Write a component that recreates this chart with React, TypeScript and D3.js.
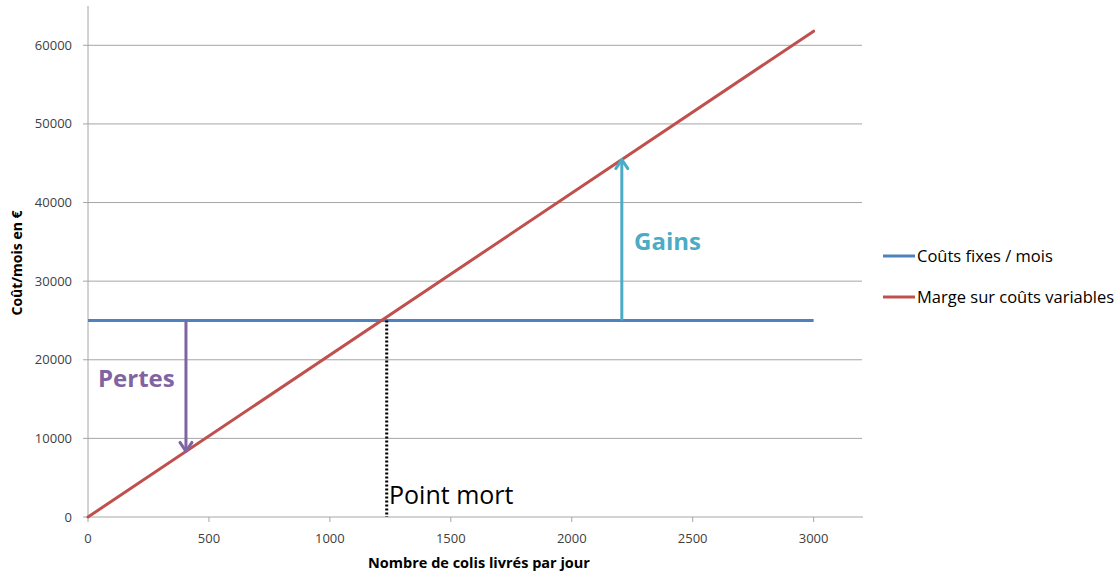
import React from "react";
import * as d3 from "d3";

const xTicks = [0, 500, 1000, 1500, 2000, 2500, 3000];
const yTicks = [0, 10000, 20000, 30000, 40000, 50000, 60000];
const fixedX = [0, 3000];
const fixedY = [25000, 25000];
const margeX = [0, 3000];
const margeY = [0, 61800];
const breakEven = 1235;
const pertesX = 405;
const gainsX = 2207;
const legendLabels = ["Coûts fixes / mois", "Marge sur coûts variables"];
const seriesColors = ["#4F81BD", "#C0504D"];

const FONT = "'Open Sans', 'Noto Sans', sans-serif";

export default function App() {
  const W = 1118, H = 574;
  const x = d3.scaleLinear().domain([0, 3200]).range([88, 862]);
  const y = d3.scaleLinear().domain([0, 65000]).range([517, 6]);
  const line = d3.line<[number, number]>().x(d => x(d[0])).y(d => y(d[1]));
  const fixedPts = fixedX.map((v, i) => [v, fixedY[i]] as [number, number]);
  const margePts = margeX.map((v, i) => [v, margeY[i]] as [number, number]);
  const margeAt = (v: number) => d3.scaleLinear().domain(margeX).range(margeY)(v);

  const grid = "#a6a6a6";
  const pertesColor = "#8064A2";
  const gainsColor = "#4BACC6";

  const arrow = (xv: number, y0: number, y1: number, color: string) => {
    const px = x(xv), py0 = y(y0), py1 = y(y1);
    const dir = py1 > py0 ? 1 : -1;
    const head = 9;
    return (
      <g>
        <line x1={px} x2={px} y1={py0} y2={py1 - dir * 2} stroke={color} strokeWidth={3} />
        <path
          d={`M${px - 6},${py1 - dir * head} L${px},${py1} L${px + 6},${py1 - dir * head}`}
          fill="none" stroke={color} strokeWidth={3} strokeLinejoin="round" strokeLinecap="round" />
      </g>
    );
  };

  return (
    <svg width={W} height={H} style={{ position: "absolute", left: 0, top: 0, background: "#fff" }}>
      {yTicks.filter(t => t > 0).map(t => (
        <line key={t} x1={x(0)} x2={862} y1={y(t)} y2={y(t)} stroke={grid} strokeWidth={1} />
      ))}
      <line x1={x(0)} x2={x(0)} y1={6} y2={y(0)} stroke={grid} strokeWidth={1} />
      <line x1={x(0)} x2={863} y1={y(0)} y2={y(0)} stroke={grid} strokeWidth={1} />
      {yTicks.map(t => (
        <g key={t}>
          <line x1={x(0) - 5} x2={x(0)} y1={y(t)} y2={y(t)} stroke={grid} />
          <text x={72} y={y(t)} dy="0.35em" textAnchor="end" fontFamily={FONT} fontSize={13} fill="#404040">{t}</text>
        </g>
      ))}
      {xTicks.map(t => (
        <g key={t}>
          <line x1={x(t)} x2={x(t)} y1={y(0)} y2={y(0) + 5} stroke={grid} />
          <text x={x(t)} y={543} textAnchor="middle" fontFamily={FONT} fontSize={13} fill="#404040">{t}</text>
        </g>
      ))}
      <text x={479} y={568} textAnchor="middle" fontFamily={FONT} fontWeight="bold" fontSize={14.5} fill="#000">Nombre de colis livrés par jour</text>
      <text transform="translate(22,263) rotate(-90)" textAnchor="middle" fontFamily={FONT} fontWeight="bold" fontSize={14} fill="#000">Coût/mois en €</text>

      <path d={line(fixedPts) || ""} fill="none" stroke={seriesColors[0]} strokeWidth={3} />
      <path d={line(margePts) || ""} fill="none" stroke={seriesColors[1]} strokeWidth={3} strokeLinecap="round" />

      <line x1={x(breakEven)} x2={x(breakEven)} y1={y(fixedY[0])} y2={y(0)} stroke="#000" strokeWidth={3} strokeDasharray="2,2" />
      <text x={389} y={504} fontFamily={FONT} fontSize={25} fill="#000">Point mort</text>

      {arrow(pertesX, fixedY[0], margeAt(pertesX), pertesColor)}
      <text x={98} y={387} fontFamily={FONT} fontWeight="bold" fontSize={24} fill={pertesColor}>Pertes</text>

      {arrow(gainsX, fixedY[0], margeAt(gainsX), gainsColor)}
      <text x={634} y={250} fontFamily={FONT} fontWeight="bold" fontSize={24} fill={gainsColor}>Gains</text>

      {legendLabels.map((l, i) => (
        <g key={l} transform={`translate(883, ${256 + i * 41})`}>
          <line x1={0} x2={32} y1={0} y2={0} stroke={seriesColors[i]} strokeWidth={3} />
          <text x={34} y={0} dy="0.35em" fontFamily={FONT} fontSize={16.5} fill="#000">{l}</text>
        </g>
      ))}
    </svg>
  );
}
